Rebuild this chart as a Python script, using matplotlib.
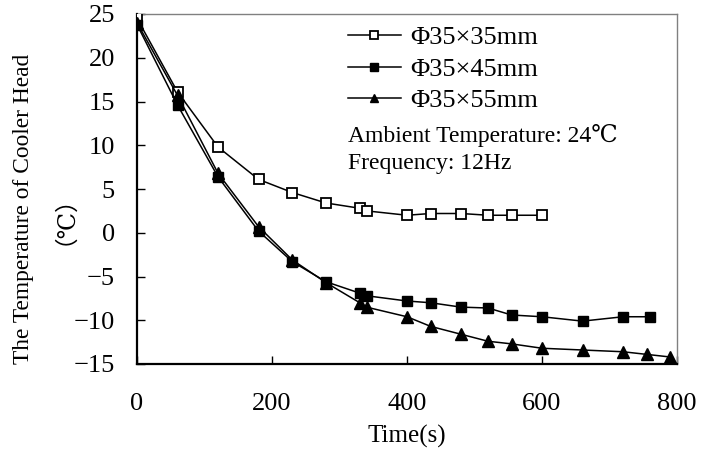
import matplotlib
matplotlib.use("Agg")
import matplotlib.pyplot as plt

plt.rcParams['font.family'] = ['Liberation Serif', 'DejaVu Serif', 'Noto Sans CJK SC']
plt.rcParams['axes.unicode_minus'] = True

# time (s) and cooler head temperature (C) for the three cooler sizes
time_35 = [0, 60, 120, 180, 230, 280, 330, 340, 400, 435, 480, 520, 555, 600]
temp_35 = [24.5, 16.1, 9.8, 6.1, 4.6, 3.4, 2.8, 2.5, 2.0, 2.2, 2.2, 2.0, 2.0, 2.0]

time_45 = [0, 60, 120, 180, 230, 280, 330, 340, 400, 435, 480, 520, 555, 600, 660, 720, 760]
temp_45 = [23.8, 14.6, 6.4, 0.2, -3.3, -5.6, -6.9, -7.2, -7.8, -8.0, -8.5, -8.6, -9.4, -9.6, -10.1, -9.6, -9.6]

time_55 = [0, 60, 120, 180, 230, 280, 330, 340, 400, 435, 480, 520, 555, 600, 660, 720, 755, 790]
temp_55 = [24.0, 15.7, 6.8, 0.7, -3.1, -5.7, -8.0, -8.5, -9.6, -10.7, -11.6, -12.4, -12.7, -13.2, -13.4, -13.6, -13.9, -14.2]

labels = ['Φ35×35mm', 'Φ35×45mm', 'Φ35×55mm']
x_ticks = [0, 200, 400, 600, 800]
y_ticks = [-15, -10, -5, 0, 5, 10, 15, 20, 25]

W, H = 702, 459
fig = plt.figure(figsize=(W / 100, H / 100), dpi=100)
ax = fig.add_axes([137 / W, 1 - 364 / H, 540 / W, 350 / H])

lw = 1.1
ax.plot(time_35, temp_35, color='black', lw=lw, marker='s', ms=7.5,
        mfc='white', mec='black', mew=1.3, label=labels[0], zorder=3)
ax.plot(time_45, temp_45, color='black', lw=lw, marker='s', ms=7.5,
        mfc='black', mec='black', mew=1.0, label=labels[1], zorder=3)
ax.plot(time_55, temp_55, color='black', lw=lw, marker='^', ms=9,
        mfc='black', mec='black', mew=1.0, label=labels[2], zorder=3)

ax.set_xlim(0, 800)
ax.set_ylim(-15, 25)
ax.set_xticks(x_ticks)
ax.set_yticks(y_ticks)
ax.tick_params(direction='in', length=6, width=1.0, labelsize=19)
ax.tick_params(axis='x', pad=21)
ax.tick_params(axis='y', pad=16)
for s in ['left', 'bottom']:
    ax.spines[s].set_linewidth(1.6)
for s in ['top', 'right']:
    ax.spines[s].set_linewidth(1.0)
    ax.spines[s].set_color('#808080')

leg = ax.legend(loc='upper left', bbox_to_anchor=(348 / W, 1 - 26 / H),
                bbox_transform=fig.transFigure, frameon=False, fontsize=19,
                handlelength=2.0, handletextpad=0.35, labelspacing=0.3,
                borderpad=0, borderaxespad=0, markerscale=0.7)

fig.text(348 / W, 1 - 135 / H, 'Ambient Temperature: 24℃', fontsize=17, va='center', ha='left')
fig.text(348 / W, 1 - 163 / H, 'Frequency: 12Hz', fontsize=17, va='center', ha='left')

fig.text(407 / W, 1 - 436 / H, 'Time(s)', fontsize=18, ha='center', va='center')
fig.text(24 / W, 1 - 209 / H, 'The Temperature of Cooler Head', fontsize=16.8,
         rotation=90, ha='center', va='center')
fig.text(53 / W, 1 - 208 / H, '（℃）', fontsize=17, rotation=90, ha='center', va='center')

fig.savefig('out.png', dpi=100)
